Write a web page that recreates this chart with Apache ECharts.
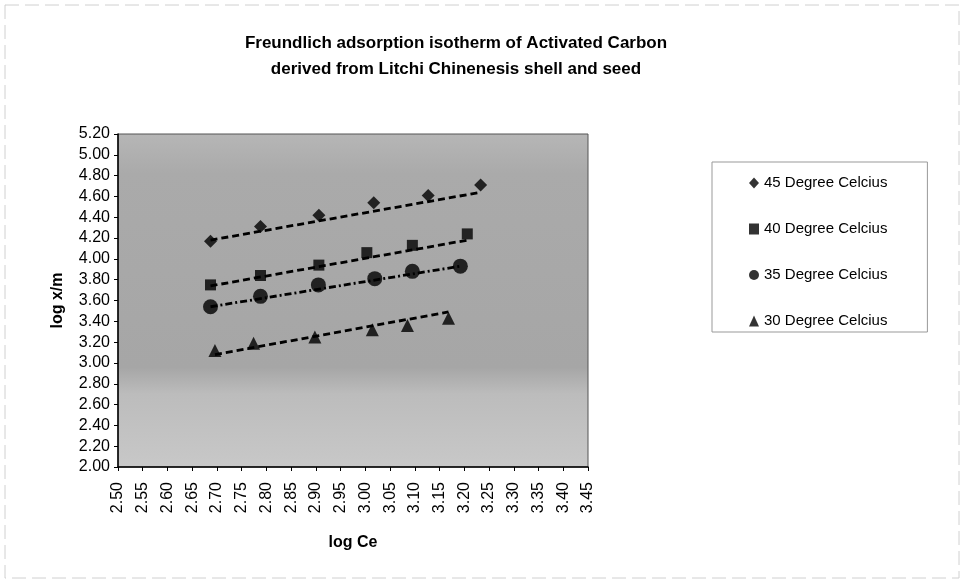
<!DOCTYPE html>
<html>
<head>
<meta charset="utf-8">
<script src="https://cdn.jsdelivr.net/npm/echarts@6/dist/echarts.min.js"></script>
<style>
  html, body { margin: 0; padding: 0; background: #fff; }
  #chart { width: 961px; height: 580px; }
</style>
</head>
<body>
<div id="chart"></div>
<script>
// series names
const seriesNames = ['45 Degree Celcius', '40 Degree Celcius', '35 Degree Celcius', '30 Degree Celcius'];

// log Ce values for each temperature
const logCe45 = [2.687, 2.788, 2.906, 3.017, 3.127, 3.233];
const logCe40 = [2.687, 2.788, 2.906, 3.003, 3.095, 3.206];
const logCe35 = [2.687, 2.788, 2.905, 3.019, 3.095, 3.192];
const logCe30 = [2.696, 2.774, 2.898, 3.014, 3.085, 3.168];

// log x/m values for each temperature
const logXm45 = [4.17, 4.31, 4.42, 4.54, 4.61, 4.71];
const logXm40 = [3.75, 3.84, 3.94, 4.06, 4.13, 4.24];
const logXm35 = [3.54, 3.64, 3.75, 3.81, 3.88, 3.93];
const logXm30 = [3.12, 3.19, 3.25, 3.32, 3.36, 3.43];

// trendline end points: [x1, y1, x2, y2]
const trend45 = [2.687, 4.18, 3.233, 4.64];
const trend40 = [2.687, 3.74, 3.206, 4.18];
const trend35 = [2.687, 3.54, 3.192, 3.93];
const trend30 = [2.696, 3.08, 3.168, 3.49];

// axis ticks
const xMin = 2.50, xMax = 3.45, xStep = 0.05;
const yMin = 2.00, yMax = 5.20, yStep = 0.20;

const font = 'Liberation Sans, Arial, sans-serif';

function pairs(xs, ys) {
  return xs.map((x, i) => [x, ys[i]]);
}
function trendData(t) {
  return [[t[0], t[1]], [t[2], t[3]]];
}

const chart = echarts.init(document.getElementById('chart'));

const symbols = ['diamond', 'rect', 'circle', 'triangle'];
const sizes = [13, 11, 15, 13];
const points = [pairs(logCe45, logXm45), pairs(logCe40, logXm40), pairs(logCe35, logXm35), pairs(logCe30, logXm30)];
const trends = [trend45, trend40, trend35, trend30];
const dashes = [[7, 4], [7, 4], [7, 3, 2, 3], [7, 4]];

let series = [];
trends.forEach((t, i) => {
  series.push({
    name: 'trend' + i,
    type: 'line',
    data: trendData(t),
    symbol: 'none',
    silent: true,
    lineStyle: { color: '#000', width: 2.8, type: dashes[i] },
    z: 2
  });
});
points.forEach((p, i) => {
  series.push({
    name: seriesNames[i],
    type: 'scatter',
    data: p,
    symbol: symbols[i],
    symbolSize: sizes[i],
    itemStyle: { color: '#000' },
    z: 3
  });
});

let option = {
  animation: false,
  backgroundColor: '#fff',
  title: {
    text: 'Freundlich adsorption isotherm of Activated Carbon\nderived from Litchi Chinenesis shell and seed',
    left: 451,
    textAlign: 'center',
    top: 25,
    textStyle: { fontFamily: font, fontSize: 17, fontWeight: 'bold', color: '#000', lineHeight: 26, letterSpacing: -0.8 }
  },
  legend: {
    orient: 'vertical',
    left: 712,
    top: 162,
    padding: [13, 40, 3, 37],
    itemGap: 30,
    itemWidth: 10,
    itemHeight: 11,
    borderColor: '#999',
    borderWidth: 1,
    backgroundColor: '#fff',
    data: seriesNames,
    textStyle: { fontFamily: font, fontSize: 15, color: '#000', letterSpacing: -0.4, lineHeight: 16 }
  },
  graphic: [{
    type: 'rect',
    shape: { x: 5, y: 5, width: 954, height: 573 },
    style: { fill: 'none', stroke: '#d0d0d0', lineWidth: 1, lineDash: [14, 6] },
    silent: true,
    z: -1
  }],
  grid: {
    left: 118,
    top: 134,
    width: 470,
    height: 333,
    show: true,
    borderWidth: 1,
    borderColor: '#555',
    backgroundColor: new echarts.graphic.LinearGradient(0, 0, 0, 1, [
      { offset: 0, color: '#b6b6b6' },
      { offset: 0.12, color: '#aaaaaa' },
      { offset: 0.7, color: '#a6a6a6' },
      { offset: 0.78, color: '#bcbcbc' },
      { offset: 1, color: '#c8c8c8' }
    ])
  },
  xAxis: {
    type: 'value',
    min: xMin,
    max: xMax,
    interval: xStep,
    name: 'log Ce',
    nameLocation: 'middle',
    nameGap: 68,
    nameTextStyle: { fontFamily: font, fontSize: 16, fontWeight: 'bold', color: '#000', letterSpacing: -0.5 },
    axisLine: { show: true, lineStyle: { color: '#000', width: 1.5 } },
    axisTick: { show: true, length: 4, lineStyle: { color: '#000' } },
    splitLine: { show: false },
    axisLabel: {
      rotate: 90,
      fontFamily: font,
      fontSize: 16,
      color: '#000',
      margin: 15,
      formatter: v => v.toFixed(2)
    }
  },
  yAxis: {
    type: 'value',
    min: yMin,
    max: yMax,
    interval: yStep,
    name: 'log x/m',
    nameLocation: 'middle',
    nameGap: 52,
    nameTextStyle: { fontFamily: font, fontSize: 16, fontWeight: 'bold', color: '#000', letterSpacing: -0.3 },
    axisLine: { show: true, lineStyle: { color: '#000', width: 1.5 } },
    axisTick: { show: true, length: 4, lineStyle: { color: '#000' } },
    splitLine: { show: false },
    axisLabel: {
      fontFamily: font,
      fontSize: 16,
      color: '#000',
      margin: 8,
      letterSpacing: -0.5,
      formatter: v => v.toFixed(2)
    }
  },
  series: series
};

chart.setOption(option);
</script>
</body>
</html>
